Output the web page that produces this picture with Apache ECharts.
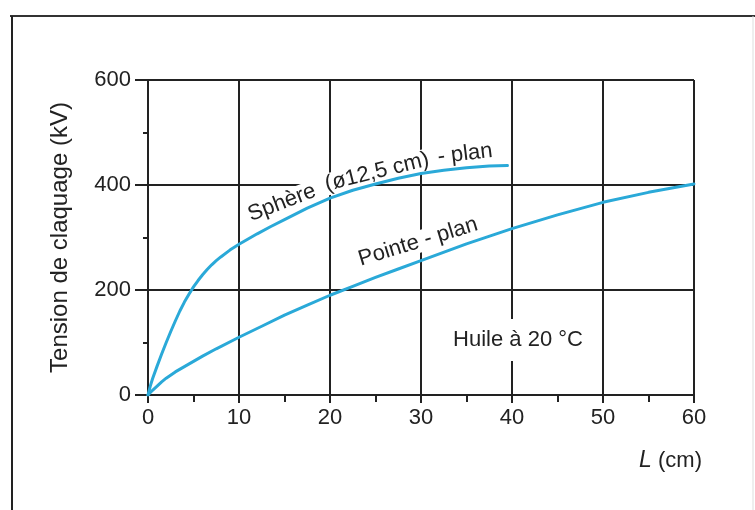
<!DOCTYPE html>
<html>
<head>
<meta charset="utf-8">
<script src="https://cdn.jsdelivr.net/npm/echarts@6/dist/echarts.min.js"></script>
<style>html,body{margin:0;padding:0;background:#fff}#c{width:755px;height:510px}</style>
</head>
<body>
<div id="c"></div>
<script>
const xTicks = [0, 10, 20, 30, 40, 50, 60];
const yTicks = [0, 200, 400, 600];
const sphereL = [0, 0.25, 0.5, 1, 1.5, 2, 2.5, 3, 3.5, 4, 4.5, 5, 5.5, 6, 6.5, 7, 7.5, 8, 9, 10, 11, 12, 13.5, 15, 17.5, 20, 22.5, 25, 27.5, 30, 32.5, 35, 37.5, 39.5];
const sphereV = [0, 17, 31, 55, 78, 100, 121, 141, 160, 177, 192, 206, 218, 229, 239, 248, 256, 263, 276, 287, 297, 307, 321, 334, 356, 375, 390, 402, 413, 422, 428, 433, 436, 437];
const pointeL = [0, 0.5, 1, 1.5, 2, 3, 4, 5, 6, 7.5, 10, 12.5, 15, 17.5, 20, 22.5, 25, 27.5, 30, 35, 40, 45, 50, 55, 60];
const pointeV = [0, 9, 17, 25, 32, 44, 54, 64, 74, 88, 110, 131, 152, 171, 190, 207, 224, 240, 256, 288, 317, 343, 367, 386, 402];

const FONT = '"Liberation Sans", Arial, sans-serif';
const TXT = '#222';
const LINE = '#2aa9d8';

const chart = echarts.init(document.getElementById('c'), null, {renderer: 'canvas'});
const zip = (a, b) => a.map((v, i) => [v, b[i]]);
const deg = d => d * Math.PI / 180;
const label = (text, x, y, rot, pad) => ({
  type: 'text', x, y, rotation: deg(rot), z: 1,
  style: {text, fill: TXT, font: '22px ' + FONT, align: 'center', verticalAlign: 'middle',
          backgroundColor: '#fff', padding: pad || [0, 5]}
});

chart.setOption({
  animation: false,
  backgroundColor: '#fff',
  grid: {left: 148, right: 61, top: 80, bottom: 115},
  xAxis: {
    type: 'value', min: xTicks[0], max: xTicks[xTicks.length - 1], interval: 10,
    axisLine: {show: true, lineStyle: {color: TXT, width: 2}},
    axisTick: {show: true, length: 8, lineStyle: {color: TXT, width: 2}},
    minorTick: {show: true, splitNumber: 2, length: 7, lineStyle: {color: TXT, width: 2}},
    splitLine: {show: true, lineStyle: {color: TXT, width: 2}},
    axisLabel: {color: TXT, fontSize: 22, fontFamily: FONT, margin: 12}
  },
  yAxis: {
    type: 'value', min: yTicks[0], max: yTicks[yTicks.length - 1], interval: 200,
    name: 'Tension de claquage (kV)', nameLocation: 'middle', nameGap: 76, nameRotate: 90,
    nameTextStyle: {color: TXT, fontSize: 24, fontFamily: FONT},
    axisLine: {show: true, lineStyle: {color: TXT, width: 2}},
    axisTick: {show: true, length: 13, lineStyle: {color: TXT, width: 2}},
    minorTick: {show: true, splitNumber: 2, length: 5, lineStyle: {color: TXT, width: 2}},
    splitLine: {show: true, lineStyle: {color: TXT, width: 2}},
    axisLabel: {color: TXT, fontSize: 22, fontFamily: FONT, margin: 17}
  },
  series: [
    {type: 'line', data: zip(sphereL, sphereV), smooth: false, showSymbol: false, z: 5,
     lineStyle: {color: LINE, width: 3, join: 'round', cap: 'round'}},
    {type: 'line', data: zip(pointeL, pointeV), smooth: false, showSymbol: false, z: 5,
     lineStyle: {color: LINE, width: 3, join: 'round', cap: 'round'}}
  ],
  graphic: [
    {type: 'line', shape: {x1: 10, y1: 16, x2: 755, y2: 16}, style: {stroke: '#333', lineWidth: 2}, z: 10},
    {type: 'line', shape: {x1: 12, y1: 16, x2: 12, y2: 510}, style: {stroke: '#222', lineWidth: 2}, z: 10},
    {type: 'line', shape: {x1: 753, y1: 16, x2: 753, y2: 510}, style: {stroke: '#ddd', lineWidth: 1}, z: 10},
    {type: 'rect', shape: {x: 314, y: 181, width: 12, height: 8}, style: {fill: '#fff'}, z: 1},
    label('Sphère', 282, 203, 21),
    label('(ø12,5 cm)', 377, 172, 14),
    label('- plan', 465, 154, 7),
    label('Pointe - plan', 418, 242, 17),
    label('Huile à 20 °C', 518, 340, 0, [10, 4]),
    {type: 'text', x: 702, y: 461, z: 1,
     style: {text: '{i|L} (cm)', fill: TXT, font: '22px ' + FONT, align: 'right', verticalAlign: 'middle',
             rich: {i: {fontStyle: 'italic', fontSize: 23, fontFamily: FONT, fill: TXT}}}}
  ]
});
</script>
</body>
</html>
